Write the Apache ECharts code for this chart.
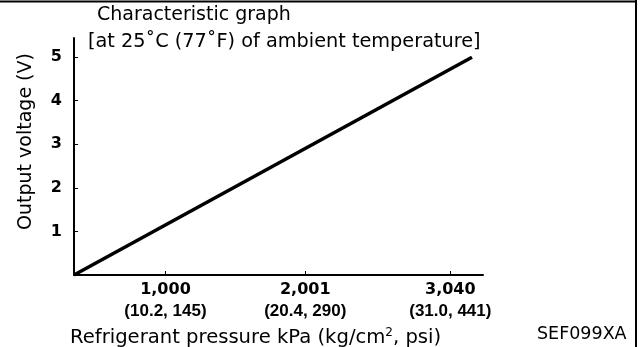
<!DOCTYPE html>
<html>
<head>
<meta charset="utf-8">
<script src="https://cdn.jsdelivr.net/npm/echarts@6/dist/echarts.min.js"></script>
<style>
html,body{margin:0;padding:0;background:#fff;}
#chart{width:642px;height:347px;}
</style>
</head>
<body>
<div id="chart"></div>
<script>
// Data
var linePressure = [345, 3195];      // kPa (axis origin to end of line)
var lineVoltage = [0, 5];            // V
var xTickValues = [1000, 2001, 3040];
var xTickSub = ['(10.2, 145)', '(20.4, 290)', '(31.0, 441)'];
var yTickValues = [1, 2, 3, 4, 5];
var titleLines = ['Characteristic graph', '[at 25\u02DAC (77\u02DAF) of ambient temperature]'];
var yName = 'Output voltage (V)';
var figCode = 'SEF099XA';

var font = '"DejaVu Sans", "Liberation Sans", Arial, sans-serif';
var font2 = '"Liberation Sans", Arial, sans-serif';
var chart = echarts.init(document.getElementById('chart'));
var seriesData = linePressure.map(function (p, i) { return [p, lineVoltage[i]]; });

chart.setOption({
  animation: false,
  backgroundColor: '#fff',
  grid: { left: 74, right: 159, top: 38, bottom: 72, containLabel: false },
  xAxis: {
    type: 'value', min: 345, max: 3274,
    axisLine: { show: true, onZero: false, lineStyle: { color: '#000', width: 2 } },
    splitLine: { show: false },
    axisTick: { show: true, inside: true, length: 4, customValues: xTickValues, lineStyle: { color: '#000', width: 1 } },
    axisLabel: {
      show: true, customValues: xTickValues, margin: 5,
      formatter: function (v) {
        var i = xTickValues.indexOf(v);
        var main = v.toLocaleString('en-US');
        return '{a|' + main + '}\n{b|' + (i >= 0 ? xTickSub[i] : '') + '}';
      },
      rich: {
        a: { fontFamily: font, fontWeight: 'bold', fontSize: 16, color: '#000', lineHeight: 20 },
        b: { fontFamily: font2, fontWeight: 'bold', fontSize: 17, color: '#000', lineHeight: 22 }
      }
    }
  },
  yAxis: {
    type: 'value', min: 0, max: 5.44,
    axisLine: { show: true, onZero: false, lineStyle: { color: '#000', width: 2 } },
    splitLine: { show: false },
    axisTick: { show: true, inside: true, length: 4, customValues: yTickValues, lineStyle: { color: '#000', width: 1 } },
    axisLabel: {
      show: true, customValues: yTickValues, margin: 12,
      fontFamily: font, fontWeight: 'bold', fontSize: 16, color: '#000'
    },
    name: yName, nameLocation: 'middle', nameGap: 38, nameRotate: 90,
    nameTextStyle: { fontFamily: font, fontSize: 19, color: '#000', padding: [0, 0, 0, 30] }
  },
  series: [{
    type: 'line', data: seriesData, symbol: 'none',
    lineStyle: { color: '#000', width: 3.5 }, clip: false
  }],
  graphic: [
    { type: 'line', shape: { x1: 0, y1: 1.5, x2: 636, y2: 1.5 }, style: { stroke: '#000', lineWidth: 2 } },
    { type: 'line', shape: { x1: 636, y1: 0, x2: 636, y2: 347 }, style: { stroke: '#000', lineWidth: 2 } },
    { type: 'text', left: 97, top: 6, style: { text: titleLines[0], font: '19px ' + font, fill: '#000' } },
    { type: 'text', left: 88, top: 32, style: { text: titleLines[1], font: '19.3px ' + font, fill: '#000' } },
    { type: 'text', left: 70, top: 327, style: {
      rich: {
        n: { fontFamily: font, fontSize: 19.6, fill: '#000' },
        s: { fontFamily: font, fontSize: 12, fill: '#000', verticalAlign: 'top', padding: [0, 0, 9, 0] }
      },
      text: '{n|Refrigerant pressure kPa (kg/cm}{s|2}{n|, psi)}', fill: '#000'
    } },
    { type: 'text', left: 537, top: 325, style: { text: figCode, font: '17.5px ' + font, fill: '#000' } }
  ]
});
</script>
</body>
</html>
